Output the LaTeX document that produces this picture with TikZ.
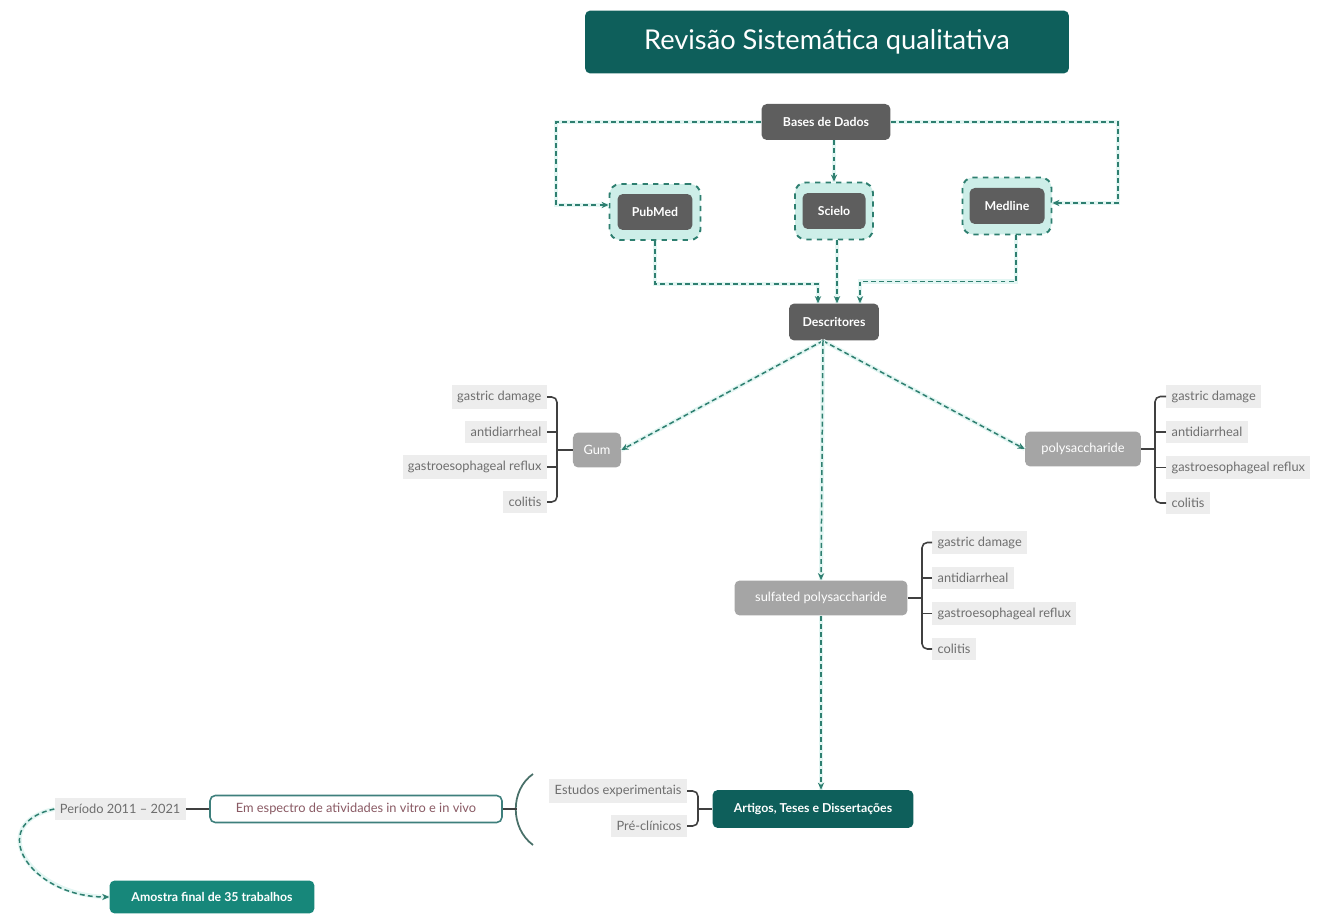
\documentclass[tikz,border=0pt]{standalone}
\usepackage{fontspec}
\setmainfont{Lato}
\usetikzlibrary{arrows.meta}
\definecolor{tealescuro}{HTML}{0E5F5B}
\definecolor{tealmedio}{HTML}{17877A}
\definecolor{cinzaescuro}{HTML}{5E5E5E}
\definecolor{cinzaclaro}{HTML}{A5A5A5}
\definecolor{itemfundo}{HTML}{EDEDED}
\definecolor{itemtexto}{HTML}{6E6E6E}
\definecolor{corseta}{HTML}{2E7F70}
\definecolor{brilho}{HTML}{E3F6F3}
\definecolor{realce}{HTML}{CDEEE8}
\definecolor{rosado}{HTML}{8A5A64}
\begin{document}
\begin{tikzpicture}[x=0.02cm, y=-0.02cm,
			titulo/.style={rectangle, rounded corners=3pt, fill=tealescuro, text=white,
				minimum width=9.68cm, minimum height=1.26cm, font=\fontsize{15.5}{18}\selectfont},
			escuro/.style={rectangle, rounded corners=3pt, fill=cinzaescuro, text=white,
				minimum height=0.72cm, inner xsep=6pt, font=\fontsize{7}{8}\selectfont\bfseries},
			claro/.style={rectangle, rounded corners=3pt, fill=cinzaclaro, text=white,
				minimum height=0.70cm, inner xsep=6pt, font=\fontsize{7.3}{8}\selectfont},
			destaque/.style={rectangle, rounded corners=6pt, fill=realce, draw=corseta,
				dashed, line width=1.1pt},
			item/.style={rectangle, fill=itemfundo, text=itemtexto, minimum height=0.44cm,
				inner xsep=3pt, font=\fontsize{7.3}{8}\selectfont},
			final/.style={rectangle, rounded corners=3pt, text=white,
				font=\fontsize{7}{8}\selectfont\bfseries},
			seta/.style={draw=corseta, line width=0.85pt, dash pattern=on 2.8pt off 1.8pt,
				-{Stealth[length=4pt,width=3.6pt]},
				preaction={draw=brilho, line width=2.4pt, solid, -}},
			ramo/.style={draw=black!75, line width=0.9pt, rounded corners=3pt},
			]
			\useasboundingbox (0,0) rectangle (1326,915);
			
			%% -- topo -------------------------------------------------
			\node[titulo] (titulo) at (827,42) {Revisão Sistemática qualitativa};
			\node[escuro, minimum width=2.58cm] (bases) at (826,122) {Bases de Dados};
			
			\node[destaque, minimum width=1.82cm, minimum height=1.12cm] (pubx) at (655,212) {};
			\node[escuro, minimum width=1.5cm] (pubmed) at (655,212) {PubMed};
			\node[destaque, minimum width=1.56cm, minimum height=1.14cm] (sciex) at (834,211) {};
			\node[escuro, minimum width=1.26cm] (scielo) at (834,211) {Scielo};
			\node[destaque, minimum width=1.78cm, minimum height=1.14cm] (medx) at (1007,206) {};
			\node[escuro, minimum width=1.5cm] (medline) at (1007,206) {Medline};
			
			\node[escuro, minimum width=1.8cm, minimum height=0.74cm] (descr) at (834,322) {Descritores};
			
			\draw[seta] (bases.west) -- ++(-205,0) |- ([yshift=0.14cm]pubx.west);
			\draw[seta] (bases.east) -- ++(227,0) |- ([yshift=0.06cm]medx.east);
			\draw[seta] (sciex.north |- bases.south) -- (sciex.north);
			\draw[seta] (pubx.south) -- ++(0,43) -| ([xshift=-0.32cm]descr.north);
			\draw[seta] ([xshift=0.06cm]sciex.south) -- ([xshift=0.06cm]sciex.south |- descr.north);
			\draw[seta] ([xshift=0.18cm]medx.south) -- ++(0,46) -| ([xshift=0.52cm]descr.north);
			
			%% -- descritores ------------------------------------------
			\node[claro, minimum width=0.96cm] (gum) at (597,450) {Gum};
			\node[claro, minimum width=2.32cm] (poly) at (1083,449) {polysaccharide};
			\node[claro, minimum width=3.46cm] (sulf) at (821,598) {sulfated polysaccharide};
			
			\draw[seta] ([xshift=-0.22cm]descr.south) -- (gum.east);
			\draw[seta] ([xshift=-0.22cm]descr.south) -- (poly.west);
			\draw[seta] ([xshift=-0.22cm]descr.south) -- (sulf.north);
			
			\foreach \txt [count=\i] in {gastric damage, antidiarrheal, gastroesophageal reflux, colitis}{
				\node[item, anchor=east] (gum-\i) at (547,{362+35*\i}) {\txt};
				\node[item, anchor=west] (poly-\i) at (1166,{361+35.5*\i}) {\txt};
				\node[item, anchor=west] (sulf-\i) at (932,{507+35.5*\i}) {\txt};
			}
			\draw[ramo] (gum-1.east) -- ++(10,0) |- (gum-4.east);
			\draw[ramo] (poly-1.west) -- ++(-11,0) |- (poly-4.west);
			\draw[ramo] (sulf-1.west) -- ++(-10,0) |- (sulf-4.west);
			\foreach \i in {2,3}{
				\draw[ramo] (gum-\i.east) -- ++(10,0);
				\draw[ramo] (poly-\i.west) -- ++(-11,0);
				\draw[ramo] (sulf-\i.west) -- ++(-10,0);
			}
			\draw[ramo] (gum.west) -- ++(-16,0);
			\draw[ramo] (poly.east) -- ++(14,0);
			\draw[ramo] (sulf.east) -- ++(14,0);
			
			%% -- resultado --------------------------------------------
			\node[final, fill=tealescuro, minimum width=4.02cm, minimum height=0.76cm] (artigos) at (813,809) {Artigos, Teses e Dissertações};
			\draw[seta] (sulf.south) -- (sulf.south |- artigos.north);
			
			\node[item, anchor=east] (estudos) at (687,791) {Estudos experimentais};
			\node[item, anchor=east] (precli) at (687,826) {Pré-clínicos};
			\draw[ramo] (estudos.east) -- ++(11,0) |- (precli.east);
			\draw[ramo] (artigos.west) -- ++(-14,0);
			
			\draw[line width=1pt, draw=corseta!60!black!80] (533,774) .. controls (510,790) and (510,828) .. (533,845);
			
			\node[rectangle, rounded corners=3pt, draw=tealescuro!80, line width=0.9pt, fill=white,
				text=rosado, minimum width=5.84cm, minimum height=0.54cm,
				font=\fontsize{7.3}{8}\selectfont] (espectro) at (356,809) {Em espectro de atividades in vitro e in vivo};
			\draw[ramo] (espectro.east) -- ++(14,0);
			
			\node[item, anchor=east] (periodo) at (186,809) {Período 2011 – 2021};
			\draw[ramo] (periodo.east) -- (espectro.west);
			
			\node[final, fill=tealmedio, minimum width=4.1cm, minimum height=0.66cm] (amostra) at (212,897) {Amostra final de 35 trabalhos};
			\draw[seta] (periodo.west) .. controls +(-70,15) and +(-80,0) .. (amostra.west);
			
	\end{tikzpicture}
\end{document}
